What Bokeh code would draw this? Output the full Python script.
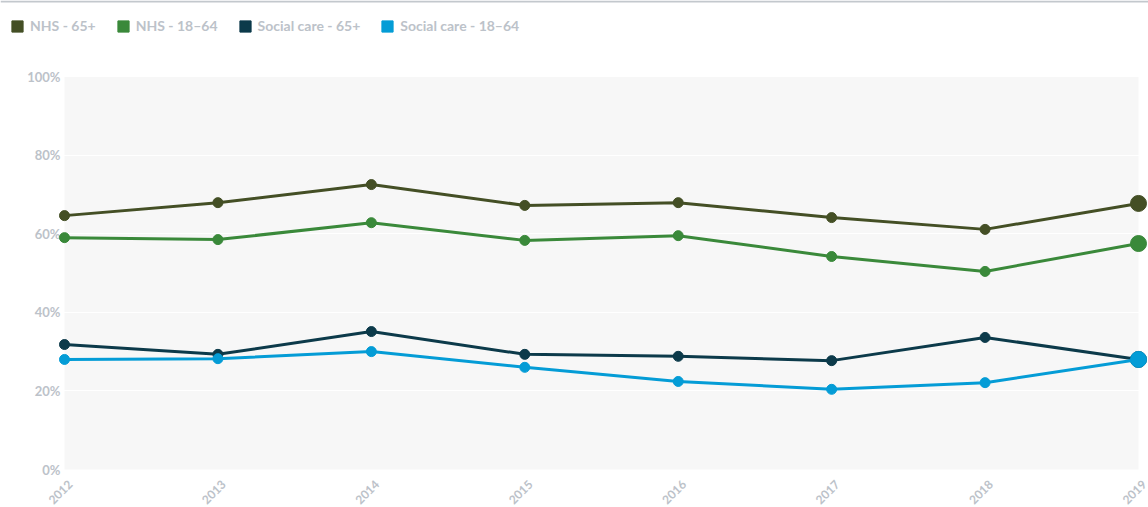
from bokeh.plotting import figure
from bokeh.models import (Range1d, BoxAnnotation, Legend, LegendItem, FixedTicker,
                          Span, Grid)
from bokeh.core.properties import value
from bokeh.embed import file_html
from bokeh.resources import INLINE
import math

years = [2012, 2013, 2014, 2015, 2016, 2017, 2018, 2019]
year_labels = [str(y) for y in years]
nhs_65 = [64.6, 67.9, 72.5, 67.2, 67.9, 64.1, 61.1, 67.7]
nhs_18_64 = [59.0, 58.5, 62.8, 58.3, 59.5, 54.2, 50.4, 57.5]
social_65 = [31.8, 29.3, 35.1, 29.3, 28.8, 27.7, 33.6, 28.0]
social_18_64 = [28.0, 28.2, 30.0, 26.0, 22.4, 20.4, 22.1, 28.0]
series_names = ["NHS - 65+", "NHS - 18\u201364", "Social care - 65+", "Social care - 18\u201364"]
y_ticks = [0, 20, 40, 60, 80, 100]
y_tick_labels = [f"{t}%" for t in y_ticks]

colors = ["#444f25", "#3a893a", "#0c3a4a", "#049cd6"]
label_color = "#bcc2c9"
font = "Lato"

W, H = 1148, 507
zero_px = 469           # y pixel of 0%
left_px = 64            # x pixel of first year
right_px = 1138         # x pixel of last year
px_per_pct = 3.93
px_per_year = (right_px - left_px) / (years[-1] - years[0])
y_top = zero_px / px_per_pct

p = figure(width=W, height=H, output_backend="svg", toolbar_location=None,
           x_range=Range1d(years[0] - left_px / px_per_year,
                           years[-1] + (W - right_px) / px_per_year),
           y_range=Range1d(-(H - zero_px) / px_per_pct, y_top),
           x_axis_location=None, y_axis_location=None,
           min_border_left=0, min_border_right=0, min_border_top=0, min_border_bottom=0)
p.outline_line_color = None
p.background_fill_color = "white"
p.border_fill_color = "white"

# top rule
p.add_layout(Span(location=y_top - 1 / px_per_pct, dimension="width",
                  line_color="#c3c8cd", line_width=2))

# plot-area background
p.add_layout(BoxAnnotation(left=years[0], right=years[-1], bottom=y_ticks[0], top=y_ticks[-1],
                           fill_color="#f7f7f7", fill_alpha=1, line_color=None, level="image"))

for g in p.grid:
    g.visible = False
p.add_layout(Grid(dimension=1, ticker=FixedTicker(ticks=y_ticks[1:]),
                  grid_line_color="white", grid_line_width=1))

# y tick labels
p.text(x=[years[0]] * len(y_ticks), y=y_ticks, text=y_tick_labels,
       x_offset=-4, text_align="right", text_baseline="middle",
       text_font=value(font), text_font_style="bold", text_font_size="13px",
       text_color=label_color)

# x tick labels (rotated)
p.text(x=years, y=[y_ticks[0]] * len(years), text=year_labels,
       x_offset=6, y_offset=13, angle=math.pi / 4,
       text_align="right", text_baseline="middle",
       text_font=value(font), text_font_style="bold", text_font_size="12px",
       text_color=label_color)

all_series = [nhs_65, nhs_18_64, social_65, social_18_64]
items = []
for name, vals, c in zip(series_names, all_series, colors):
    p.line(years, vals, line_color=c, line_width=3)
    p.scatter(years[:-1], vals[:-1], size=10, fill_color=c, line_color=c)
    p.scatter(years[-1:], vals[-1:], size=16, fill_color=c, line_color=c)
    r = p.quad(left=[1990], right=[1991], bottom=[-50], top=[-40], fill_color=c, line_color=c)
    items.append(LegendItem(label=name, renderers=[r]))

legend = Legend(items=items, orientation="horizontal", location=(10, H - 34),
                glyph_width=14, glyph_height=14, label_standoff=6, spacing=20,
                padding=0, margin=0, border_line_color=None, background_fill_alpha=0,
                label_text_font=font, label_text_font_style="bold",
                label_text_font_size="14px", label_text_color=label_color,
                label_height=14, label_text_baseline="middle")
p.add_layout(legend)

open("out.html", "w").write(file_html(p, INLINE))
